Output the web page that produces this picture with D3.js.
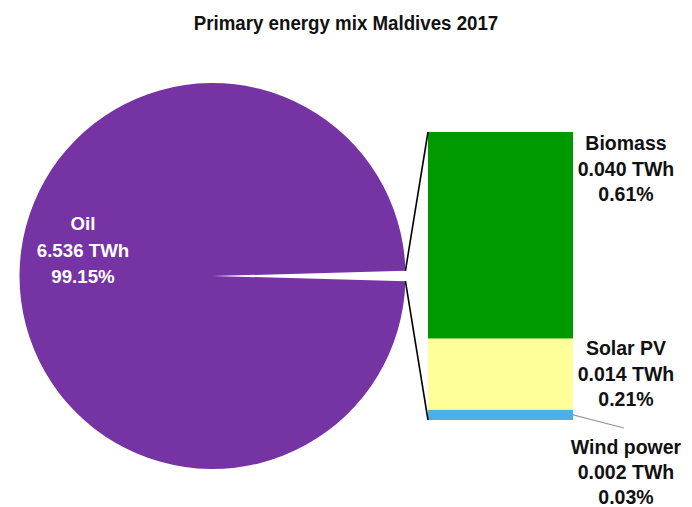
<!DOCTYPE html>
<head>
  <meta charset="UTF-8" />
  <script src="https://d3js.org/d3.v7.min.js"></script>
  <style>
    body { margin: 0; background: #fff; }
    text { font-family: "Liberation Sans Narrow", "Liberation Sans", Arial, sans-serif; font-weight: bold; }
  </style>
</head>
<body>
  <script>
    var width = 692, height = 507;

    // data
    var mainLabel = "Oil";
    var mainValue = 6.536;
    var mainPct = 99.15;
    var otherNames = ["Biomass", "Solar PV", "Wind power"];
    var otherValues = [0.040, 0.014, 0.002];
    var otherPcts = [0.61, 0.21, 0.03];
    var otherColors = ["#009900", "#ffff99", "#4db0e4"];

    var svg = d3.select("body").append("svg")
      .attr("width", width).attr("height", height);

    // title, slightly condensed like the original
    svg.append("text")
      .attr("transform", "translate(346,30) scale(0.935,1)")
      .attr("text-anchor", "middle")
      .style("font-size", "20px")
      .attr("fill", "#111")
      .text("Primary energy mix Maldives 2017");

    // pie
    var cx = 212.5, cy = 276, r = 193;
    var otherPctTotal = d3.sum(otherPcts);
    var half = (otherPctTotal / 100) * Math.PI; // half of the small slice angle
    var pie = d3.pie().sort(null)
      .startAngle(Math.PI / 2 + half)
      .endAngle(Math.PI / 2 + half + 2 * Math.PI);
    var arcs = pie([mainPct, otherPctTotal]);
    var arc = d3.arc().innerRadius(0).outerRadius(r);

    var g = svg.append("g").attr("transform", "translate(" + cx + "," + cy + ")");
    g.append("path").attr("d", arc(arcs[0])).attr("fill", "#7633a4");

    // oil label
    var oilLines = [mainLabel, d3.format(".3f")(mainValue) + " TWh", d3.format(".2f")(mainPct) + "%"];
    svg.append("g").selectAll("text").data(oilLines).join("text")
      .attr("x", 83).attr("y", function (d, i) { return 230 + i * 26.5; })
      .attr("text-anchor", "middle")
      .attr("fill", "#fff")
      .style("font-size", "18.7px")
      .text(function (d) { return d; });

    // bar of pie
    var barX = 428, barW = 145;
    var y = d3.scaleLinear().domain([0, otherPctTotal]).range([132, 420]);
    var cum = 0;
    var segs = otherPcts.map(function (p, i) {
      var s = { i: i, y0: y(cum), y1: y(cum + p) };
      cum += p;
      return s;
    });
    svg.append("g").selectAll("rect").data(segs).join("rect")
      .attr("x", barX).attr("width", barW)
      .attr("y", function (d) { return d.y0; })
      .attr("height", function (d) { return d.y1 - d.y0; })
      .attr("fill", function (d) { return otherColors[d.i]; });

    // connector lines
    var upA = Math.PI / 2 - half, loA = Math.PI / 2 + half;
    var up = [cx + r * Math.sin(upA), cy - r * Math.cos(upA)];
    var lo = [cx + r * Math.sin(loA), cy - r * Math.cos(loA)];
    svg.append("line").attr("x1", up[0]).attr("y1", up[1]).attr("x2", barX).attr("y2", y(0))
      .attr("stroke", "#000").attr("stroke-width", 1.6);
    svg.append("line").attr("x1", lo[0]).attr("y1", lo[1]).attr("x2", barX).attr("y2", y(otherPctTotal))
      .attr("stroke", "#000").attr("stroke-width", 1.6);

    // labels
    var labelTop = [150, 355, 454];
    var labelGap = [25.7, 25.7, 25];
    otherNames.forEach(function (n, i) {
      var lines = [n, d3.format(".3f")(otherValues[i]) + " TWh", d3.format(".2f")(otherPcts[i]) + "%"];
      svg.append("g").selectAll("text").data(lines).join("text")
        .attr("x", 626).attr("y", function (d, k) { return labelTop[i] + k * labelGap[i]; })
        .attr("text-anchor", "middle")
        .attr("fill", "#111")
        .style("font-size", "19.5px")
        .text(function (d) { return d; });
    });

    // leader for wind
    svg.append("line")
      .attr("x1", barX + barW).attr("y1", (segs[2].y0 + segs[2].y1) / 2)
      .attr("x2", 624).attr("y2", 428)
      .attr("stroke", "#999").attr("stroke-width", 1.2);
  </script>
</body>
